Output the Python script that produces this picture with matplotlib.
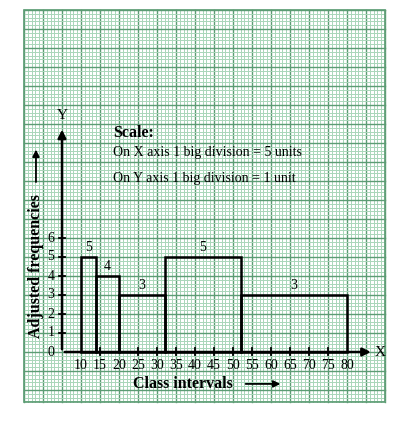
import numpy as np
import matplotlib.pyplot as plt
from matplotlib.patches import Rectangle

plt.rcParams['font.family'] = ['Liberation Serif', 'DejaVu Serif']

# class boundaries and adjusted frequencies
edges = [10, 14, 20, 32, 52, 80]
freqs = [5, 4, 3, 5, 3]
xticks = [10, 15, 20, 25, 30, 35, 40, 45, 50, 55, 60, 65, 70, 75, 80]
yticks = [0, 1, 2, 3, 4, 5, 6]
scale_lines = ['On X axis 1 big division = 5 units',
               'On Y axis 1 big division = 1 unit']

fig = plt.figure(figsize=(4.03, 4.26), dpi=100)
ax = fig.add_axes([0, 0, 1, 1])
ax.set_xlim(5 - 62 / 3.8, 5 + 341 / 3.8)
ax.set_ylim(-74 / 19, 352 / 19)
ax.axis('off')

# graph paper
gx0, gx1 = -5, 90
gy0, gy1 = -2.65, 18
minor_c = '#a9d6b9'
major_c = '#5c9c74'
for v in np.arange(gx0, gx1 + 0.01, 1):
    major = abs((v - gx0) % 5) < 1e-6
    ax.plot([v, v], [gy0, gy1], color=major_c if major else minor_c,
            lw=1.0 if major else 0.7, zorder=1)
for v in np.arange(gy1, gy0 - 0.01, -0.2):
    major = abs(round(v, 3) - round(v)) < 1e-6
    ax.plot([gx0, gx1], [v, v], color=major_c if major else minor_c,
            lw=1.0 if major else 0.7, zorder=1)
ax.add_patch(Rectangle((gx0, gy0), gx1 - gx0, gy1 - gy0, fill=False,
                       ec=major_c, lw=1.2, zorder=1))

# axes with arrows
ax.annotate('', xy=(5, 11.85), xytext=(5, 0),
            arrowprops=dict(arrowstyle='-|>', color='k', lw=1.8,
                            mutation_scale=12), zorder=4)
ax.annotate('', xy=(87, 0), xytext=(5, 0),
            arrowprops=dict(arrowstyle='-|>', color='k', lw=1.8,
                            mutation_scale=12), zorder=4)
ax.text(5, 12.1, 'Y', fontsize=11, ha='center', va='bottom', zorder=5)
ax.text(87.3, 0, 'X', fontsize=11, ha='left', va='center', zorder=5)

# ticks
for t in yticks[1:]:
    ax.plot([4.2, 5.8], [t, t], color='k', lw=1.3, zorder=4)
for t in yticks:
    ax.text(3.0, t, str(t), fontsize=10, ha='right', va='center', zorder=5)
for t in xticks:
    if t not in edges:
        ax.plot([t, t], [-0.15, 0.2], color='k', lw=1.3, zorder=4)
    ax.text(t, -0.35, str(t), fontsize=10, ha='center', va='top', zorder=5)

# histogram bars
for i, f in enumerate(freqs):
    ax.add_patch(Rectangle((edges[i], 0), edges[i + 1] - edges[i], f,
                           fill=False, ec='k', lw=1.8, zorder=3))
    ax.text((edges[i] + edges[i + 1]) / 2, f + 0.15, str(f), fontsize=10,
            ha='center', va='bottom', zorder=5)

# scale note
ax.text(18.5, 11.55, 'Scale:', fontsize=11.5, fontweight='bold',
        va='center', zorder=5)
ax.text(18.5, 10.5, scale_lines[0], fontsize=10, va='center', zorder=5)
ax.text(18.5, 9.15, scale_lines[1], fontsize=10, va='center', zorder=5)

# axis labels with arrows
ax.text(-1.8, 4.5, 'Adjusted frequencies', fontsize=11.5, fontweight='bold',
        rotation=90, ha='center', va='center', zorder=5)
ax.annotate('', xy=(-1.85, 10.8), xytext=(-1.85, 8.8),
            arrowprops=dict(arrowstyle='-|>', color='k', lw=1.3,
                            mutation_scale=10), zorder=5)
ax.text(23.7, -1.68, 'Class intervals', fontsize=11.5, fontweight='bold',
        va='center', zorder=5)
ax.annotate('', xy=(63.2, -1.68), xytext=(52.6, -1.68),
            arrowprops=dict(arrowstyle='-|>', color='k', lw=1.3,
                            mutation_scale=10), zorder=5)

fig.savefig('out.png', dpi=100)
